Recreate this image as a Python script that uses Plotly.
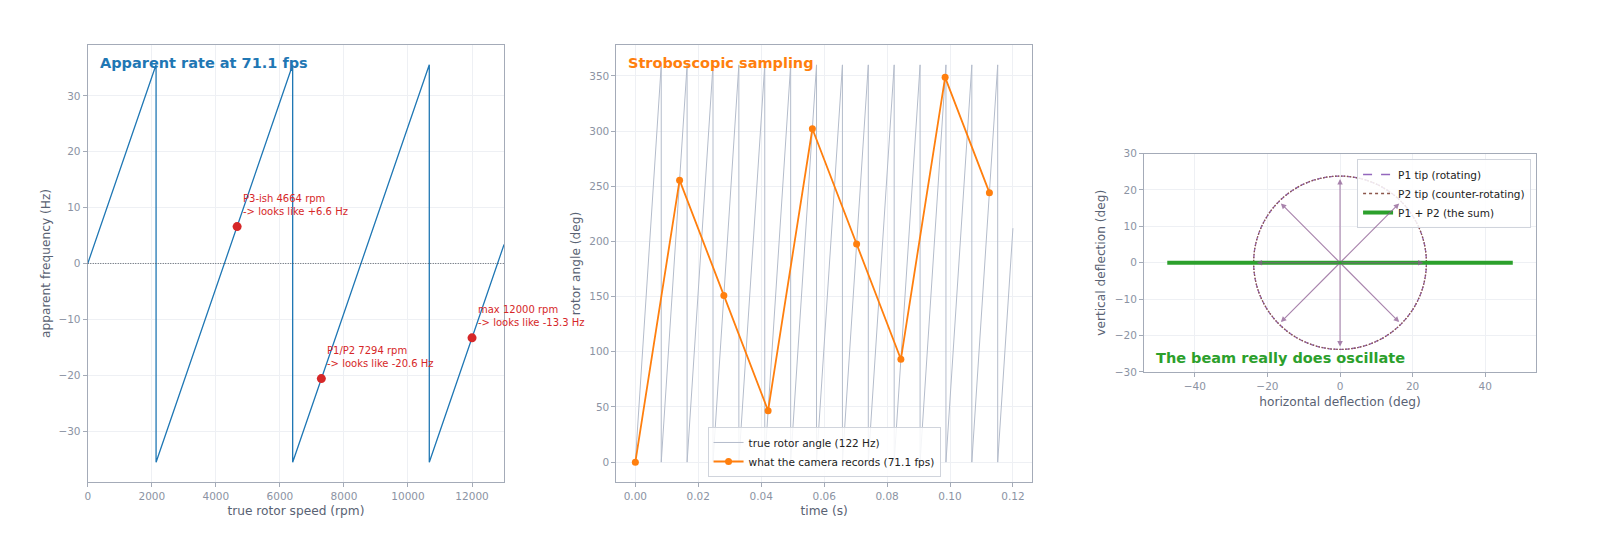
import plotly.graph_objects as go

# ---- panel 1: apparent rate vs true rotor speed (71.1 fps camera)
saw_rpm = [0, 2133, 2133, 6399, 6399, 10665, 10665, 13000]
saw_hz = [0, 35.55, -35.55, 35.55, -35.55, 35.55, -35.55, 3.4]
marked_rpm = [4664, 7294, 12000]
marked_hz = [6.6, -20.6, -13.3]
marked_labels = ["P3-ish 4664 rpm<br>-> looks like +6.6 Hz",
                 "P1/P2 7294 rpm<br>-> looks like -20.6 Hz",
                 "max 12000 rpm<br>-> looks like -13.3 Hz"]

# ---- panel 2: true rotor angle (wraps every rev) and camera samples
wrap_t = [0.0, 0.00823, 0.01645, 0.02468, 0.03290, 0.04113, 0.04936, 0.05758,
          0.06581, 0.07403, 0.08226, 0.09049, 0.09871, 0.10694, 0.11516]
rotor_end_t = 0.12
rotor_end_deg = 212
sample_t = [0.0, 0.01406, 0.02813, 0.04219, 0.05626, 0.07032, 0.08439, 0.09845, 0.11252]
sample_deg = [0, 255.5, 151.1, 46.6, 302.1, 197.6, 93.2, 348.7, 244.2]

# ---- panel 3: two counter-rotating phasors and their sum
tip_radius = 23.8
sum_x = [-47.6, 47.6]
sum_y = [0, 0]
arrow_x = [23.0, 16.3, 0, -16.3, -23.0, -16.3, 0, 16.3]
arrow_y = [0, 16.3, 23.0, 16.3, 0, -16.3, -23.0, -16.3]

BLUE, ORANGE, GREEN, RED = "#1f77b4", "#ff7f0e", "#2ca02c", "#d62728"
PURPLE, BROWN = "#9467bd", "#8c564b"
FONT = "DejaVu Sans"
TICK_C, TITLE_C, SPINE_C, GRID_C = "#8b93a3", "#596273", "#a4abb8", "#eef0f4"

# build the wrapped rotor path from the wrap instants
rot_x, rot_y = [], []
for i, t0 in enumerate(wrap_t):
    t1 = wrap_t[i + 1] if i + 1 < len(wrap_t) else rotor_end_t
    top = 360 if i + 1 < len(wrap_t) else rotor_end_deg
    rot_x += [t0, t1]
    rot_y += [0, top]

fig = go.Figure()

fig.add_trace(go.Scatter(x=saw_rpm, y=saw_hz, mode="lines", line=dict(color=BLUE, width=1.3),
                         showlegend=False, xaxis="x", yaxis="y"))
fig.add_trace(go.Scatter(x=marked_rpm, y=marked_hz, mode="markers",
                         marker=dict(color=RED, size=9), showlegend=False, xaxis="x", yaxis="y"))

fig.add_trace(go.Scatter(x=rot_x, y=rot_y, mode="lines", line=dict(color="#b4bccb", width=1),
                         name="true rotor angle (122 Hz)", legend="legend", xaxis="x2", yaxis="y2"))
fig.add_trace(go.Scatter(x=sample_t, y=sample_deg, mode="lines+markers",
                         line=dict(color=ORANGE, width=1.8), marker=dict(color=ORANGE, size=7),
                         name="what the camera records (71.1 fps)", legend="legend",
                         xaxis="x2", yaxis="y2"))

# legend-only entries for the tip circles (the circles themselves are shapes)
fig.add_trace(go.Scatter(x=[None], y=[None], mode="lines", line=dict(color=PURPLE, width=1.5, dash="dash"),
                         name="P1 tip (rotating)", legend="legend2", xaxis="x3", yaxis="y3"))
fig.add_trace(go.Scatter(x=[None], y=[None], mode="lines", line=dict(color=BROWN, width=1.5, dash="dot"),
                         name="P2 tip (counter-rotating)", legend="legend2", xaxis="x3", yaxis="y3"))
fig.add_trace(go.Scatter(x=sum_x, y=sum_y, mode="lines", line=dict(color=GREEN, width=4),
                         name="P1 + P2 (the sum)", legend="legend2", xaxis="x3", yaxis="y3"))

for dash, col in [("4px,2px", PURPLE), ("1.5px,1.5px", BROWN)]:
    fig.add_shape(type="circle", xref="x3", yref="y3", x0=-tip_radius, x1=tip_radius,
                  y0=-tip_radius, y1=tip_radius, layer="between",
                  line=dict(color=col, width=1.3, dash=dash))

fig.add_shape(type="line", xref="x domain", yref="y", x0=0, x1=1, y0=0, y1=0,
              line=dict(color="#4a505a", width=0.9, dash="1px,1.5px"))

anns = []
for xv, yv, txt in zip(marked_rpm, marked_hz, marked_labels):
    anns.append(dict(x=xv, y=yv, xref="x", yref="y", text=txt, showarrow=False, align="left",
                     xanchor="left", yanchor="bottom", xshift=4, yshift=8,
                     font=dict(family=FONT, size=10, color=RED)))
for xv, yv in zip(arrow_x, arrow_y):
    anns.append(dict(x=xv, y=yv, xref="x3", yref="y3", ax=0, ay=0, axref="x3", ayref="y3",
                     text="", showarrow=True, arrowhead=2, arrowsize=1, arrowwidth=1.1,
                     arrowcolor="rgba(140,90,145,0.75)", standoff=0, startstandoff=0))
titles = [("Apparent rate at 71.1 fps", BLUE, "x", "y", 0.024, 0.959),
          ("Stroboscopic sampling", ORANGE, "x2", "y2", 0.024, 0.959),
          ("The beam really does oscillate", GREEN, "x3", "y3", 0.026, 0.064)]
for txt, col, xa, ya, xp, yp in titles:
    anns.append(dict(x=xp, y=yp, xref=xa + " domain", yref=ya + " domain", text="<b>" + txt + "</b>",
                     showarrow=False, xanchor="left", yanchor="middle",
                     font=dict(family=FONT, size=14.5, color=col)))


def axis(domain, rng, title, dtick, anchor, standoff, fmt=None):
    d = dict(domain=domain, range=rng, dtick=dtick, anchor=anchor, showline=True, mirror=True,
             linecolor=SPINE_C, linewidth=1.2, ticks="outside", ticklen=4, tickcolor=SPINE_C,
             showgrid=True, gridcolor=GRID_C, gridwidth=1, zeroline=False, automargin=False,
             tickfont=dict(family=FONT, size=10.5, color=TICK_C),
             title=dict(text=title, standoff=standoff, font=dict(family=FONT, size=12.2, color=TITLE_C)))
    if fmt:
        d["tickformat"] = fmt
    return d


# page body has an 8px margin, so the figure is 8px smaller each way
ydom12 = [0.1413, 0.9330]
fig.update_layout(
    width=1592, height=552, margin=dict(l=0, r=0, t=0, b=0),
    paper_bgcolor="white", plot_bgcolor="white",
    font=dict(family=FONT),
    xaxis=axis([0.0501, 0.3116], [0, 13000], "true rotor speed (rpm)", 2000, "y", 5, "d"),
    yaxis=axis(ydom12, [-39.1, 39.1], "apparent frequency (Hz)", 10, "x", 5),
    xaxis2=axis([0.3822, 0.6431], [-0.006, 0.126], "time (s)", 0.02, "y2", 5, ".2f"),
    yaxis2=axis(ydom12, [-18, 378], "rotor angle (deg)", 50, "x2", 5),
    xaxis3=axis([0.7136, 0.9598], [-54, 54], "horizontal deflection (deg)", 20, "y3", 6),
    yaxis3=axis([0.3406, 0.7364], [-30, 30], "vertical deflection (deg)", 10, "x3", 6),
    legend=dict(x=0.5126, y=0.1504, xanchor="center", yanchor="bottom",
                bgcolor="rgba(255,255,255,0.85)", bordercolor="#d0d4dc", borderwidth=1,
                font=dict(family=FONT, size=10.5, color="#222")),
    legend2=dict(x=0.9567, y=0.7264, xanchor="right", yanchor="top",
                 bgcolor="rgba(255,255,255,0.85)", bordercolor="#d0d4dc", borderwidth=1,
                 font=dict(family=FONT, size=10.5, color="#222")),
    annotations=anns,
)

fig.write_html("out.html")
